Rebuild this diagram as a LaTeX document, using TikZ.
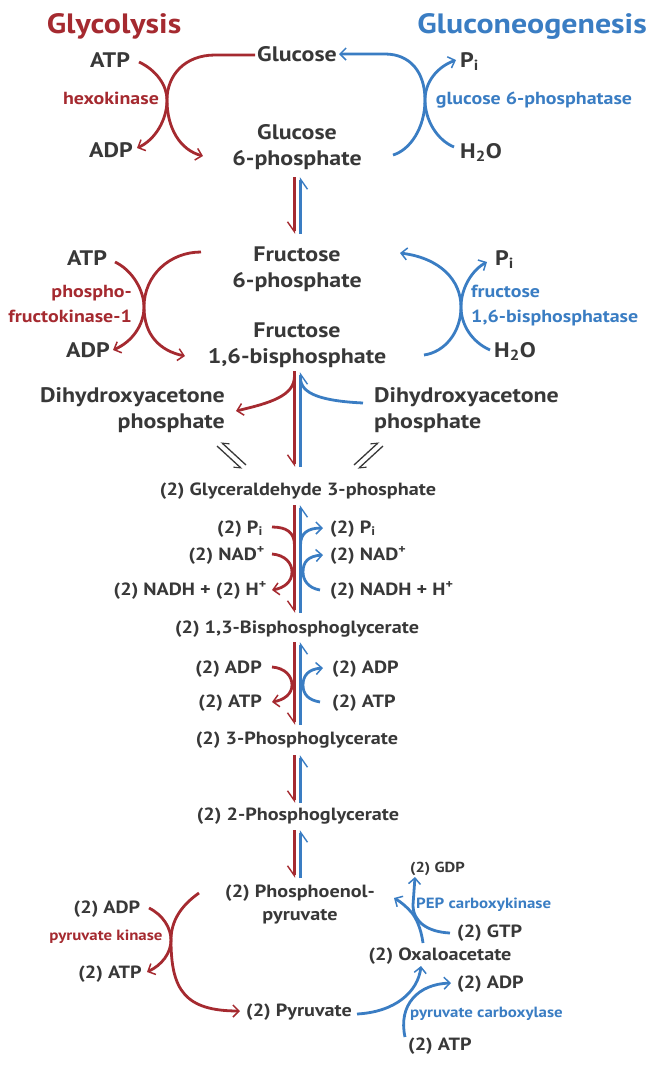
\documentclass[tikz,border=0pt]{standalone}
\usepackage{fontspec}
\setmainfont{PT Sans}[FakeStretch=1.14]
\usetikzlibrary{arrows.meta}
\definecolor{gred}{HTML}{A52A30}
\definecolor{gblue}{HTML}{3A7DC3}
\definecolor{gtxt}{HTML}{383838}
\tikzset{
  big/.style={inner sep=0pt, text=gtxt, font=\bfseries\fontsize{21}{26}\selectfont, align=center},
  small/.style={inner sep=0pt, text=gtxt, font=\bfseries\fontsize{17.7}{23}\selectfont},
  tiny/.style={inner sep=0pt, text=gtxt, font=\bfseries\fontsize{14.5}{16}\selectfont},
  ttl/.style={inner sep=0pt, font=\bfseries\fontsize{28}{30}\selectfont},
  enzr/.style={inner sep=0pt, text=gred, font=\bfseries\fontsize{17.5}{25}\selectfont},
  enzb/.style={inner sep=0pt, text=gblue, font=\bfseries\fontsize{17.5}{25}\selectfont},
  enzrs/.style={inner sep=0pt, text=gred, font=\bfseries\fontsize{14.8}{16}\selectfont},
  enzbs/.style={inner sep=0pt, text=gblue, font=\bfseries\fontsize{14.8}{16}\selectfont},
  rl/.style={draw=gred, line width=2.8pt},
  bl/.style={draw=gblue, line width=2.8pt},
  kl/.style={draw=gtxt, line width=1.3pt},
  ar/.tip={Straight Barb[length=6pt,width=12pt,line width=1.5pt]},
  hp/.tip={Straight Barb[harpoon,length=10pt,width=14pt,line width=1.4pt]},
  hs/.tip={Straight Barb[harpoon,swap,length=10pt,width=14pt,line width=1.4pt]},
  ek/.tip={Straight Barb[harpoon,length=6pt,width=9pt,line width=1.1pt]},
  eks/.tip={Straight Barb[harpoon,swap,length=6pt,width=9pt,line width=1.1pt]},
}
\begin{document}
\begin{tikzpicture}[x=1pt,y={(0pt,-1pt)}]
\useasboundingbox (0,0) rectangle (650,1072);
% titles
\node[ttl, text=gred, anchor=base] (tgly) at (114,33) {Glycolysis};
\node[ttl, text=gblue, anchor=base] (tglu) at (532,33) {Gluconeogenesis};
% section 1
\node[big, anchor=base] (atp1) at (110,67) {ATP};
\node[enzr, anchor=base] (hexo) at (111,104) {hexokinase};
\node[big, anchor=base] (adp1) at (111,157) {ADP};
\node[big, anchor=base] (glc) at (297,61) {Glucose};
\node[big, anchor=base] (g6p) at (297,165) {Glucose\\6-phosphate};
\node[big, anchor=base west] (pi1) at (460,67) {P\textsubscript{i}};
\node[enzb, anchor=base] (g6pase) at (534,104) {glucose 6-phosphatase};
\node[big, anchor=base] (h2o1) at (481,158) {H\textsubscript{2}O};
\coordinate (c1a) at (255,55);
\coordinate (c1b) at (203,156);
\coordinate (c1c) at (139,62);
\coordinate (c1d) at (137,148);
\draw[rl,-ar] (c1a) -- (215,55) .. controls (185,55) and (167,75) .. (167,100) .. controls (167,128) and (180,150) .. (c1b);
\draw[rl,-ar] (c1c) .. controls (156,70) and (167,85) .. (167,100) .. controls (167,120) and (155,140) .. (c1d);
\coordinate (c1e) at (393,155);
\coordinate (c1f) at (339,54);
\coordinate (c1g) at (454,147);
\coordinate (c1h) at (456,60);
\draw[bl,-ar] (c1e) .. controls (410,150) and (425,128) .. (425,100) .. controls (425,72) and (410,54) .. (385,54) -- (c1f);
\draw[bl,-ar] (c1g) .. controls (437,140) and (425,120) .. (425,100) .. controls (425,82) and (437,67) .. (c1h);
% vertical 1
\draw[rl,-hs] (294.5,177) -- (294.5,234);
\draw[bl,-hs] (300.5,234) -- (300.5,177);
% section 2
\node[big, anchor=base] (f6p) at (297,287) {Fructose\\6-phosphate};
\node[big, anchor=base] (f16bp) at (297,363) {Fructose\\1,6-bisphosphate};
\node[big, anchor=base] (atp2) at (87,265) {ATP};
\node[enzr, anchor=base east, align=right] (pfk) at (132,322) {phospho-\\fructokinase-1};
\node[big, anchor=base] (adp2) at (88,357) {ADP};
\node[big, anchor=base west] (pi2) at (495,265) {P\textsubscript{i}};
\node[enzb, anchor=base west, align=left] (fbpase) at (471,322) {fructose\\1,6-bisphosphatase};
\node[big, anchor=base west] (h2o2) at (494,357) {H\textsubscript{2}O};
\coordinate (c2a) at (201,252);
\coordinate (c2b) at (185,356);
\coordinate (c2c) at (115,262);
\coordinate (c2d) at (113,350);
\draw[rl,-ar] (c2a) .. controls (170,252) and (144,275) .. (144,307) .. controls (144,335) and (160,351) .. (c2b);
\draw[rl,-ar] (c2c) .. controls (132,270) and (144,290) .. (144,307) .. controls (144,325) and (132,342) .. (c2d);
\coordinate (c2e) at (424,355);
\coordinate (c2f) at (400,253);
\coordinate (c2g) at (490,350);
\coordinate (c2h) at (487,262);
\draw[bl,-ar] (c2e) .. controls (445,352) and (461,332) .. (461,307) .. controls (461,280) and (440,258) .. (c2f);
\draw[bl,-ar] (c2g) .. controls (472,342) and (461,325) .. (461,307) .. controls (461,288) and (472,270) .. (c2h);
% section 3
\node[big, anchor=base east, align=right] (dhapl) at (225,428) {Dihydroxyacetone\\phosphate};
\node[big, anchor=base west, align=left] (dhapr) at (374,428) {Dihydroxyacetone\\phosphate};
\node[small, anchor=base] (gap) at (298,495) {(2) Glyceraldehyde 3-phosphate};
\draw[rl,-hs] (294.5,371) -- (294.5,467);
\draw[bl,-hs] (300.5,467) -- (300.5,372);
\coordinate (c3a) at (236,411);
\coordinate (c3b) at (363,403);
\draw[rl,-ar] (294.5,376) .. controls (294.5,396) and (270,403) .. (c3a);
\draw[bl] (c3b) .. controls (322,401) and (300.5,394) .. (300.5,378);
\draw[kl,-eks] (217,446) -- (242,469);
\draw[kl,-eks] (246,465) -- (221,442);
\draw[kl,-ek] (383,446) -- (358,469);
\draw[kl,-ek] (354,465) -- (379,442);
% section 4
\node[small, anchor=base east] (pi3l) at (263,533) {(2) P\textsubscript{i}};
\node[small, anchor=base east] (nadl) at (265,560) {(2) NAD\textsuperscript{+}};
\node[small, anchor=base east] (nadhl) at (267,595) {(2) NADH + (2) H\textsuperscript{+}};
\node[small, anchor=base west] (pi3r) at (330,533) {(2) P\textsubscript{i}};
\node[small, anchor=base west] (nadr) at (330,560) {(2) NAD\textsuperscript{+}};
\node[small, anchor=base west] (nadhr) at (330,595) {(2) NADH + H\textsuperscript{+}};
\node[small, anchor=base] (bpg) at (297,633) {(2) 1,3-Bisphosphoglycerate};
\draw[rl,-hs] (294.5,505) -- (294.5,613);
\draw[bl,-hs] (300.5,613) -- (300.5,505);
\draw[rl] (272,527) .. controls (286,527) and (294.5,532) .. (294.5,545);
\draw[rl,-ar] (272,554) .. controls (285,555) and (292,563) .. (292,572) .. controls (292,582) and (284,588) .. (272,590);
\draw[bl,-ar] (300.5,545) .. controls (300.5,533) and (308,528) .. (323,528);
\draw[bl,-ar] (320,590) .. controls (308,588) and (303,580) .. (303,572) .. controls (303,562) and (308,556) .. (323,555);
% section 5
\node[small, anchor=base east] (adp3l) at (262,673) {(2) ADP};
\node[small, anchor=base east] (atp3l) at (262,707) {(2) ATP};
\node[small, anchor=base west] (adp3r) at (332,673) {(2) ADP};
\node[small, anchor=base west] (atp3r) at (332,707) {(2) ATP};
\node[small, anchor=base] (pg3) at (297,744) {(2) 3-Phosphoglycerate};
\draw[rl,-hs] (294.5,642) -- (294.5,725);
\draw[bl,-hs] (300.5,725) -- (300.5,642);
\draw[rl,-ar] (272,667) .. controls (285,668) and (292,676) .. (292,685) .. controls (292,694) and (284,700) .. (272,702);
\draw[bl,-ar] (320,702) .. controls (308,700) and (303,694) .. (303,685) .. controls (303,676) and (308,669) .. (323,668);
% section 6
\node[small, anchor=base] (pg2) at (298,820) {(2) 2-Phosphoglycerate};
\draw[rl,-hs] (294.5,755) -- (294.5,803);
\draw[bl,-hs] (300.5,803) -- (300.5,755);
\node[small, anchor=base, align=center] (pep) at (300,920) {(2) Phosphoenol-\\pyruvate};
\draw[rl,-hs] (294.5,830) -- (294.5,878);
\draw[bl,-hs] (300.5,878) -- (300.5,830);
% section 7
\node[small, anchor=base] (adp4) at (107,913) {(2) ADP};
\node[enzrs, anchor=base] (pk) at (106,940) {pyruvate kinase};
\node[small, anchor=base] (atp4) at (110,978) {(2) ATP};
\node[small, anchor=base] (pyr) at (299,1016) {(2) Pyruvate};
\coordinate (c7a) at (199,893);
\coordinate (c7b) at (240,1011);
\coordinate (c7c) at (149,908);
\coordinate (c7d) at (147,972);
\draw[rl,-ar] (c7a) .. controls (182,905) and (171,920) .. (171,940) .. controls (171,990) and (185,1011) .. (c7b);
\draw[rl,-ar] (c7c) .. controls (163,915) and (171,928) .. (171,940) .. controls (171,953) and (162,965) .. (c7d);
\node[tiny, anchor=base west] (gdp) at (410,872) {(2) GDP};
\node[enzbs, anchor=base west] (pepck) at (416,908) {PEP carboxykinase};
\node[small, anchor=base west] (gtp) at (457,937) {(2) GTP};
\node[small, anchor=base] (oaa) at (440,960) {(2) Oxaloacetate};
\node[small, anchor=base west] (adp5) at (457,988) {(2) ADP};
\node[enzbs, anchor=base west] (pc) at (410,1017) {pyruvate carboxylase};
\node[small, anchor=base west] (atp5) at (408,1050) {(2) ATP};
\coordinate (c7e) at (423,943);
\coordinate (c7f) at (394,898);
\coordinate (c7g) at (450,933);
\coordinate (c7h) at (415,877);
\draw[bl,-ar] (c7e) .. controls (421,928) and (416,918) .. (412,913) .. controls (407,907) and (401,902) .. (c7f);
\draw[bl,-ar] (c7g) .. controls (428,932) and (413,922) .. (413,905) -- (c7h);
\coordinate (c7i) at (357,1014);
\coordinate (c7j) at (421,966);
\coordinate (c7k) at (405,1037);
\coordinate (c7l) at (451,983);
\draw[bl,-ar] (c7i) .. controls (395,1012) and (418,992) .. (c7j);
\draw[bl,-ar] (c7k) .. controls (398,1005) and (418,984) .. (c7l);
\end{tikzpicture}
\end{document}
